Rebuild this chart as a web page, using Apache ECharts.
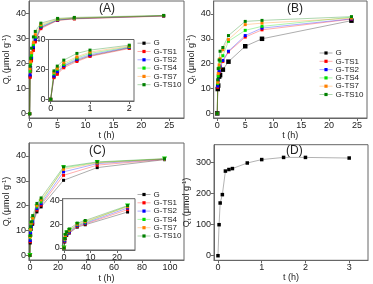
<!DOCTYPE html>
<html><head><meta charset="utf-8">
<script src="https://cdn.jsdelivr.net/npm/echarts@6/dist/echarts.min.js"></script>
<style>html,body{margin:0;padding:0;background:#fff}#c{width:373px;height:284px}</style>
</head><body><div id="c"></div>
<script>
// ---- data ----
const seriesNames = ['G', 'G-TS1', 'G-TS2', 'G-TS4', 'G-TS7', 'G-TS10'];

// Panel A
const tA = [0, 0.083, 0.167, 0.333, 0.667, 1, 2, 5, 8, 24];
const qA_G    = [0, 15.0, 17.5, 22.0, 26.0, 29.1, 34.4, 37.4, 38.0, 39.1];
const qA_TS1  = [0, 14.5, 16.7, 21.1, 25.3, 28.7, 34.0, 37.3, 37.9, 39.0];
const qA_TS2  = [0, 15.5, 18.5, 22.5, 26.7, 29.8, 34.7, 37.5, 38.1, 39.1];
const qA_TS4  = [0, 17.0, 20.0, 23.3, 27.6, 30.7, 35.1, 37.7, 38.2, 39.2];
const qA_TS7  = [0, 18.0, 20.7, 24.4, 28.4, 31.6, 35.6, 37.9, 38.3, 39.2];
const qA_TS10 = [0, 19.0, 22.2, 26.2, 30.7, 32.9, 36.2, 38.1, 38.5, 39.3];

// Panel B
const tB = [0, 0.083, 0.167, 0.333, 0.5, 1, 2, 5, 8, 24];
const qB_G    = [0, 9.8, 11.2, 14.8, 15.4, 17.6, 20.8, 27.0, 30.0, 37.3];
const qB_TS1  = [0, 10.5, 13.0, 16.5, 18.5, 20.9, 24.7, 30.7, 33.6, 37.9];
const qB_TS2  = [0, 11.0, 13.5, 17.0, 19.0, 21.3, 25.0, 31.3, 34.3, 38.0];
const qB_TS4  = [0, 12.0, 15.0, 18.5, 21.0, 23.2, 29.0, 33.4, 35.0, 38.7];
const qB_TS7  = [0, 12.5, 16.0, 19.5, 22.0, 25.6, 29.7, 35.7, 36.3, 38.3];
const qB_TS10 = [0, 13.5, 18.0, 21.5, 25.0, 26.5, 31.3, 37.0, 37.4, 38.9];

// Panel C
const tC = [0, 0.25, 0.5, 1, 2, 5, 8, 24, 48, 96];
const qC_G    = [0, 5.0, 8.0, 10.5, 12.5, 17.5, 19.5, 30.2, 35.3, 38.5];
const qC_TS1  = [0, 5.5, 8.5, 11.0, 13.0, 18.2, 20.2, 32.2, 36.3, 38.6];
const qC_TS2  = [0, 6.0, 9.0, 11.5, 13.5, 18.8, 20.8, 33.6, 36.9, 38.7];
const qC_TS4  = [0, 7.0, 10.0, 12.5, 14.5, 19.5, 21.5, 35.2, 37.4, 38.8];
const qC_TS7  = [0, 7.5, 10.5, 13.0, 15.0, 20.0, 22.3, 34.6, 37.2, 38.8];
const qC_TS10 = [0, 8.0, 11.5, 13.5, 16.0, 20.9, 23.1, 35.6, 37.6, 38.9];

// Panel D
const tD = [0, 0.025, 0.05, 0.1, 0.17, 0.25, 0.33, 0.67, 1, 1.5, 2, 3];
const qD = [0, 100, 170, 197, 273, 278, 281, 299, 310, 317, 317, 315];

// tick labels
const ticksX_A = [0, 5, 10, 15, 20, 25];
const ticksX_Ain = [0, 1, 2];
const ticksX_C = [0, 20, 40, 60, 80, 100];
const ticksX_Cin = [0, 10, 20];
const ticksX_D = [0, 1, 2, 3];
const ticksY_main = [0, 10, 20, 30, 40];
const ticksY_in = [0, 20, 40];
const ticksY_D = [0, 100, 200, 300];

// ---- styles ----
const colors = ['#000000', '#ff0000', '#0000ff', '#00e000', '#ff8000', '#008000'];
const axisCol = '#666';
const font = 'Liberation Sans, Arial, sans-serif';

function pairs(t, q) { return t.map((v, i) => [v, q[i]]); }

function xAx(grid, min, max, ticks, name, nameGap) {
  return {
    type: 'value', gridIndex: grid, min, max, position: 'bottom',
    name: name || '', nameLocation: 'middle', nameGap: nameGap || 0,
    nameTextStyle: { fontSize: 9, color: '#222', fontFamily: font },
    axisLine: { show: true, onZero: false, lineStyle: { color: axisCol, width: 1 } },
    axisTick: { show: true, inside: false, length: 3, customValues: ticks, lineStyle: { color: axisCol } },
    axisLabel: { customValues: ticks, fontSize: 9, color: '#222', fontFamily: font, margin: 3 },
    splitLine: { show: false }
  };
}
const yName = '{a|Q}{b|t}{a| (μmol g}{c|-1}{a|)}';
function yAx(grid, min, max, ticks, withName, nameGap) {
  return {
    type: 'value', gridIndex: grid, min, max, position: 'left',
    name: withName ? yName : '', nameLocation: 'middle', nameGap: nameGap || 0, nameRotate: 90,
    nameTextStyle: {
      fontFamily: font, color: '#222',
      rich: {
        a: { fontSize: 9, lineHeight: 11, color: '#222', fontFamily: font, verticalAlign: 'middle' },
        b: { fontSize: 6, lineHeight: 11, color: '#222', fontFamily: font, verticalAlign: 'bottom', padding: [4, 0, 0, 0] },
        c: { fontSize: 6, lineHeight: 11, color: '#222', fontFamily: font, verticalAlign: 'top', padding: [0, 0, 4, 0] }
      }
    },
    axisLine: { show: true, onZero: false, lineStyle: { color: axisCol, width: 1 } },
    axisTick: { show: true, inside: false, length: 3, customValues: ticks, lineStyle: { color: axisCol } },
    axisLabel: { customValues: ticks, fontSize: 9, color: '#222', fontFamily: font, margin: 3 },
    splitLine: { show: false }
  };
}

const grids = [
  { left: 29, top: 1, width: 155, height: 117 },      // 0 A main
  { left: 48.5, top: 39.5, width: 85.5, height: 61.5, backgroundColor: '#fff' }, // 1 A inset
  { left: 213.7, top: 1, width: 153.3, height: 117 }, // 2 B main
  { left: 27.7, top: 143, width: 156.3, height: 117.3 }, // 3 C main
  { left: 62.7, top: 198.7, width: 72.3, height: 51.3, backgroundColor: '#fff' }, // 4 C inset
  { left: 214, top: 144.7, width: 154, height: 115.6 }  // 5 D main
].map(g => Object.assign({ show: true, borderColor: axisCol, borderWidth: 1, containLabel: false }, g));

const xAxes = [
  xAx(0, -0.125, 27.65, ticksX_A, 't (h)', 11),
  xAx(1, -0.056, 2.12, ticksX_Ain),
  xAx(2, -0.64, 26.78, ticksX_A, 't (h)', 11),
  xAx(3, -0.71, 109.9, ticksX_C, 't (h)', 14),
  xAx(4, -0.5, 26.8, ticksX_Cin),
  xAx(5, -0.091, 3.43, ticksX_D, 't (h)', 9)
];
const yAxes = [
  yAx(0, -1.71, 45.06, ticksY_main, true, 17),
  yAx(1, -1.13, 40, ticksY_in),
  yAx(2, -1.85, 45.2, ticksY_main, true, 17),
  yAx(3, -1.85, 45.2, ticksY_main, true, 16),
  yAx(4, -1.7, 41.4, ticksY_in),
  yAx(5, -14.8, 358, ticksY_D, true, 21)
];

function line(name, color, t, q, ax, sym, size, rot) {
  return {
    type: 'line', name, data: pairs(t, q), xAxisIndex: ax, yAxisIndex: ax,
    symbol: sym || 'rect', symbolSize: size || 3, symbolRotate: rot || 0,
    itemStyle: { color }, lineStyle: { color, width: 1, opacity: 0.32 },
    clip: false, silent: true, animation: false, z: 3
  };
}

const A = [qA_G, qA_TS1, qA_TS2, qA_TS4, qA_TS7, qA_TS10];
const B = [qB_G, qB_TS1, qB_TS2, qB_TS4, qB_TS7, qB_TS10];
const C = [qC_G, qC_TS1, qC_TS2, qC_TS4, qC_TS7, qC_TS10];
const series = [];
seriesNames.forEach((n, i) => {
  series.push(line(n, colors[i], tA, A[i], 0));
  series.push(line(n, colors[i], tA.filter(t => t <= 2), A[i], 1));
  series.push(line(n, colors[i], tB, B[i], 2, 'rect', i === 0 ? 4.5 : 3));
  const cs = i === 3 ? 'triangle' : 'rect';
  const cz = i === 3 ? 5 : 3;
  const cr = i === 3 ? 180 : 0;
  series.push(line(n, colors[i], tC, C[i], 3, cs, cz, cr));
  series.push(line(n, colors[i], tC.filter(t => t <= 24), C[i], 4, cs, cz, cr));
});
series.push(line('D', '#000', tD, qD, 5, 'rect', 3.5));
series[series.length - 1].lineStyle = { color: '#000', width: 1, opacity: 0.3 };

function legend(left, top) {
  return {
    orient: 'vertical', left, top, data: seriesNames, itemWidth: 13, itemHeight: 4, itemGap: 0.3,
    selectedMode: false, padding: 0,
    lineStyle: { opacity: 0.32, width: 1 },
    textStyle: { fontSize: 8, lineHeight: 8, color: '#222', fontFamily: font, padding: [0, 0, 0, -2] }
  };
}

const titleStyle = { fontSize: 12, fontWeight: 'normal', color: '#222', fontFamily: font };
const option = {
  animation: false,
  backgroundColor: '#fff',
  title: [
    { text: '(A)', left: 99, top: 3, padding: 0, textStyle: titleStyle },
    { text: '(B)', left: 287, top: 3, padding: 0, textStyle: titleStyle },
    { text: '(C)', left: 89, top: 145, padding: 0, textStyle: titleStyle },
    { text: '(D)', left: 286, top: 145, padding: 0, textStyle: titleStyle }
  ],
  legend: [legend(137, 39.2), legend(319, 49), legend(137, 190.5)],
  grid: grids,
  xAxis: xAxes,
  yAxis: yAxes,
  series
};
const chart = echarts.init(document.getElementById('c'), null, { renderer: 'canvas' });
chart.setOption(option);
</script>
</body></html>
